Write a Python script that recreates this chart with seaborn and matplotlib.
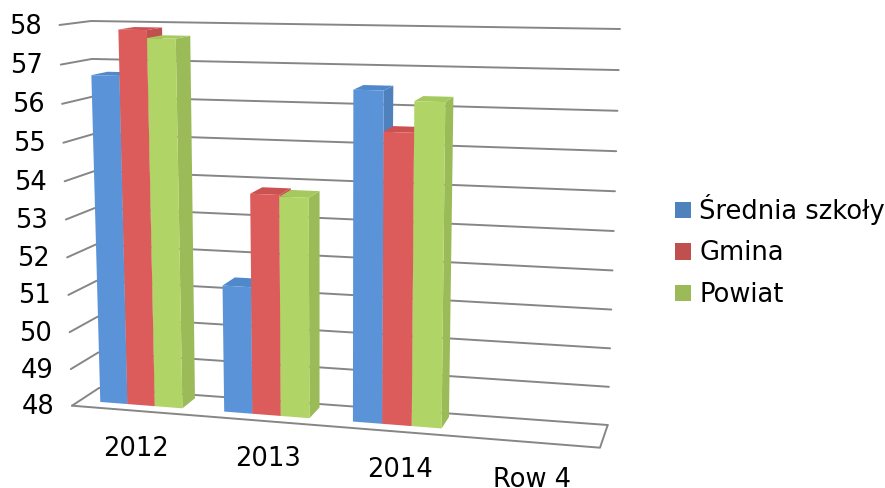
#!/usr/bin/env python3
"""Pseudo-3D clustered bars: seaborn bars pushed through a perspective transform."""

import matplotlib.pyplot as plt
import numpy as np
import pandas as pd
import seaborn as sns
from matplotlib.patches import Patch, Polygon
from matplotlib.transforms import IdentityTransform, Transform

categories = ["2012", "2013", "2014", "Row 4"]
series_names = ["Średnia szkoły", "Gmina", "Powiat"]
srednia = [56.7, 51.37, 56.52, np.nan]
gmina = [57.88, 53.8, 55.5, np.nan]
powiat = [57.68, 53.76, 56.28, np.nan]
y_ticks = list(range(48, 59))

FRONT_COLORS = ["#5A93D8", "#DC5C5B", "#B0D465"]
SIDE_COLORS = ["#4F81BD", "#C0504D", "#9BBB59"]
TOP_COLORS = ["#5088CC", "#CB5250", "#A5C95C"]
GRID = "#868686"
TEXT_SIZE = 18.5

W, H = 885, 488
# wall corners in pixels: bottom-left, bottom-right, top-left, top-right
FRONT_WALL = [(72, 405.7), (600, 447.7), (59.5, 25), (612, 37)]
BACK_WALL = [(99, 388), (607.7, 425), (91, 21), (620, 29)]
BAR_FRONT, BAR_BACK = 0.3, 0.84
Y_MIN, Y_SPAN = 48, 10


def homography(corners):
    """Matrix taking the unit square to the four corners."""
    unit = [(0, 0), (1, 0), (0, 1), (1, 1)]
    rows, rhs = [], []
    for (u, t), (px, py) in zip(unit, corners):
        rows.append([u, t, 1, 0, 0, 0, -u * px, -t * px])
        rows.append([0, 0, 0, u, t, 1, -u * py, -t * py])
        rhs += [px, py]
    return np.append(np.linalg.solve(rows, rhs), 1).reshape(3, 3)


H_FRONT = homography(FRONT_WALL)
H_BACK = homography(BACK_WALL)


def project(x, v, depth):
    """Category position, value and depth (0 front, 1 back) to display pixels."""
    x, v = np.asarray(x, float), np.asarray(v, float)
    pts = np.column_stack([(x + 0.5) / 4, (v - Y_MIN) / Y_SPAN, np.ones(x.size)])
    front = pts @ H_FRONT.T
    back = pts @ H_BACK.T
    front = front[:, :2] / front[:, 2:]
    back = back[:, :2] / back[:, 2:]
    out = (1 - depth) * front + depth * back
    out[:, 1] = H - out[:, 1]
    return out


class BarPlane(Transform):
    """Data coordinates on the plane of the bar fronts to display."""

    input_dims = output_dims = 2
    is_separable = False

    def transform_non_affine(self, values):
        values = np.asarray(values, float)
        return project(values[:, 0], values[:, 1], BAR_FRONT)


def draw_walls(ax):
    screen = IdentityTransform()
    line = dict(color=GRID, lw=1.4, transform=screen, zorder=1, solid_capstyle="round")
    for v in y_ticks:
        left_front = project([-0.5], [v], 0)[0]
        left_back = project([-0.5], [v], 1)[0]
        right_back = project([3.5], [v], 1)[0]
        ax.plot(*zip(left_front, left_back, right_back), **line)
        ax.text(left_front[0] - 17.5, left_front[1] - 1.5, str(v), ha="right", va="center",
                fontsize=TEXT_SIZE, color="black", transform=screen)
    ax.plot(*zip(project([-0.5], [48], 0)[0], project([3.5], [48], 0)[0],
                 project([3.5], [48], 1)[0]), **line)
    # category labels sit evenly along the front edge, no perspective on them
    (x0, y0), (x1, y1) = FRONT_WALL[:2]
    for i, label in enumerate(categories):
        u = (i + 0.5) / len(categories)
        px = x0 + u * (x1 - x0) - 1.7
        py = H - (y0 + u * (y1 - y0) + 45)
        ax.text(px, py, label, ha="center", va="baseline",
                fontsize=TEXT_SIZE, color="black", transform=screen)


def draw_bars(ax):
    screen = IdentityTransform()
    plane = BarPlane()
    for s, container in enumerate(ax.containers):
        for c, bar in enumerate(container):
            value = bar.get_height()
            if np.isnan(value) or value == 0:
                bar.set_visible(False)
                continue
            left, right = bar.get_x(), bar.get_x() + bar.get_width()
            bar.set_y(Y_MIN)
            bar.set_height(value - Y_MIN)
            bar.set_transform(plane)
            bar.set_clip_on(False)
            bar.set_edgecolor("none")
            order = 3 + c * 3 + s
            bar.set_zorder(order + 0.2)
            side = [project([right], [value], BAR_FRONT)[0], project([right], [value], BAR_BACK)[0],
                    project([right], [Y_MIN], BAR_BACK)[0], project([right], [Y_MIN], BAR_FRONT)[0]]
            top = [project([left], [value], BAR_FRONT)[0], project([left], [value], BAR_BACK)[0],
                   project([right], [value], BAR_BACK)[0], project([right], [value], BAR_FRONT)[0]]
            ax.add_patch(Polygon(side, facecolor=SIDE_COLORS[s], edgecolor="none",
                                 transform=screen, zorder=order, clip_on=False))
            ax.add_patch(Polygon(top, facecolor=TOP_COLORS[s], edgecolor="none",
                                 transform=screen, zorder=order + 0.1, clip_on=False))


def main() -> None:
    sns.set_theme(style="white")
    df = pd.DataFrame({"category": categories, series_names[0]: srednia,
                       series_names[1]: gmina, series_names[2]: powiat})
    long_df = df.melt(id_vars="category", var_name="series", value_name="value")

    fig, ax = plt.subplots(figsize=(W / 100, H / 100), dpi=100)
    ax.set_position([0, 0, 1, 1])
    sns.barplot(data=long_df, x="category", y="value", hue="series", order=categories,
                hue_order=series_names, palette=FRONT_COLORS, width=0.667, saturation=1,
                errorbar=None, ax=ax, legend=False)
    draw_walls(ax)
    draw_bars(ax)
    ax.set_xlim(-0.5, 3.5)
    ax.set_ylim(48, 58)
    ax.axis("off")

    handles = [Patch(facecolor=color, edgecolor="none", label=name)
               for color, name in zip(SIDE_COLORS, series_names)]
    fig.legend(handles=handles, loc="center left", bbox_to_anchor=(675 / W, 1 - 251 / H),
               frameon=False, fontsize=TEXT_SIZE, handlelength=0.62, handleheight=0.62,
               handletextpad=0.32, labelspacing=0.6, borderpad=0, borderaxespad=0,
               labelcolor="black")
    fig.savefig("out.png", dpi=100)
    plt.close(fig)


if __name__ == "__main__":
    main()
